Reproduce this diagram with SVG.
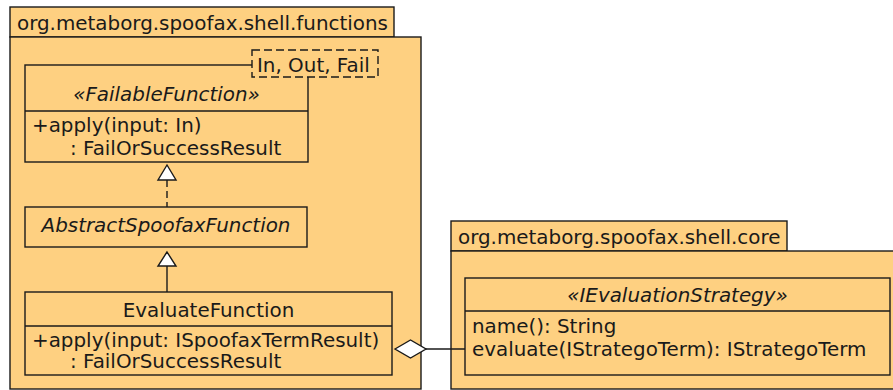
<svg xmlns="http://www.w3.org/2000/svg" width="893" height="390" viewBox="0 0 893 390">
<style>
.pk{fill:#fed081;stroke:#1a1a1a;stroke-width:1.4}
.bx{fill:#fed081;stroke:#1a1a1a;stroke-width:1.4}
.ln{stroke:#1a1a1a;stroke-width:1.4;fill:none}
.t{font-family:"DejaVu Sans",sans-serif;font-size:19.9px;fill:#1a1a1a}
.i{font-style:italic}
.m{text-anchor:middle}
.tri{fill:#fff;stroke:#1a1a1a;stroke-width:1.4}
</style>
<rect width="893" height="390" fill="#fff"/>
<g id="pkg-functions">
<rect class="pk" x="10" y="7" width="384" height="30"/>
<rect class="pk" x="10" y="37" width="411" height="352"/>
<text class="t" x="17" y="30">org.metaborg.spoofax.shell.functions</text>
</g>
<g id="pkg-core">
<rect class="pk" x="451" y="221" width="336" height="30"/>
<rect class="pk" x="451" y="251" width="450" height="138"/>
<text class="t" x="458" y="244">org.metaborg.spoofax.shell.core</text>
</g>
<g id="FailableFunction">
<rect class="bx" x="25" y="65" width="283" height="97"/>
<line class="ln" x1="25" y1="111" x2="308" y2="111"/>
<text class="t i m" x="166.5" y="101">«FailableFunction»</text>
<text class="t" x="32" y="132">+apply(input: In)</text>
<text class="t" x="70" y="155">: FailOrSuccessResult</text>
<rect x="252" y="50" width="126" height="27" fill="#fed081" stroke="#1a1a1a" stroke-width="1.4" stroke-dasharray="8,4"/>
<text class="t" x="257" y="72">In, Out, Fail</text>
</g>
<g id="AbstractSpoofaxFunction">
<rect class="bx" x="25" y="207" width="282" height="40"/>
<text class="t i m" x="166" y="232">AbstractSpoofaxFunction</text>
</g>
<g id="EvaluateFunction">
<rect class="bx" x="25" y="292" width="367" height="83"/>
<line class="ln" x1="25" y1="326" x2="392" y2="326"/>
<text class="t m" x="208.5" y="317">EvaluateFunction</text>
<text class="t" x="32" y="347">+apply(input: ISpoofaxTermResult)</text>
<text class="t" x="70" y="368">: FailOrSuccessResult</text>
</g>
<g id="IEvaluationStrategy">
<rect class="bx" x="465" y="278" width="425" height="97"/>
<line class="ln" x1="465" y1="311" x2="890" y2="311"/>
<text class="t i m" x="677.5" y="302">«IEvaluationStrategy»</text>
<text class="t" x="472" y="333">name(): String</text>
<text class="t" x="472" y="356">evaluate(IStrategoTerm): IStrategoTerm</text>
</g>
<g id="connectors">
<line class="ln" x1="167" y1="180" x2="167" y2="207" stroke-dasharray="7,4"/>
<polygon class="tri" points="167,165 158,180 176,180"/>
<line class="ln" x1="167" y1="266" x2="167" y2="292"/>
<polygon class="tri" points="167,252 158,266 176,266"/>
<line class="ln" x1="426" y1="349" x2="465" y2="349"/>
<polygon class="tri" points="395,349 410.5,340 426,349 410.5,358"/>
</g>
</svg>
